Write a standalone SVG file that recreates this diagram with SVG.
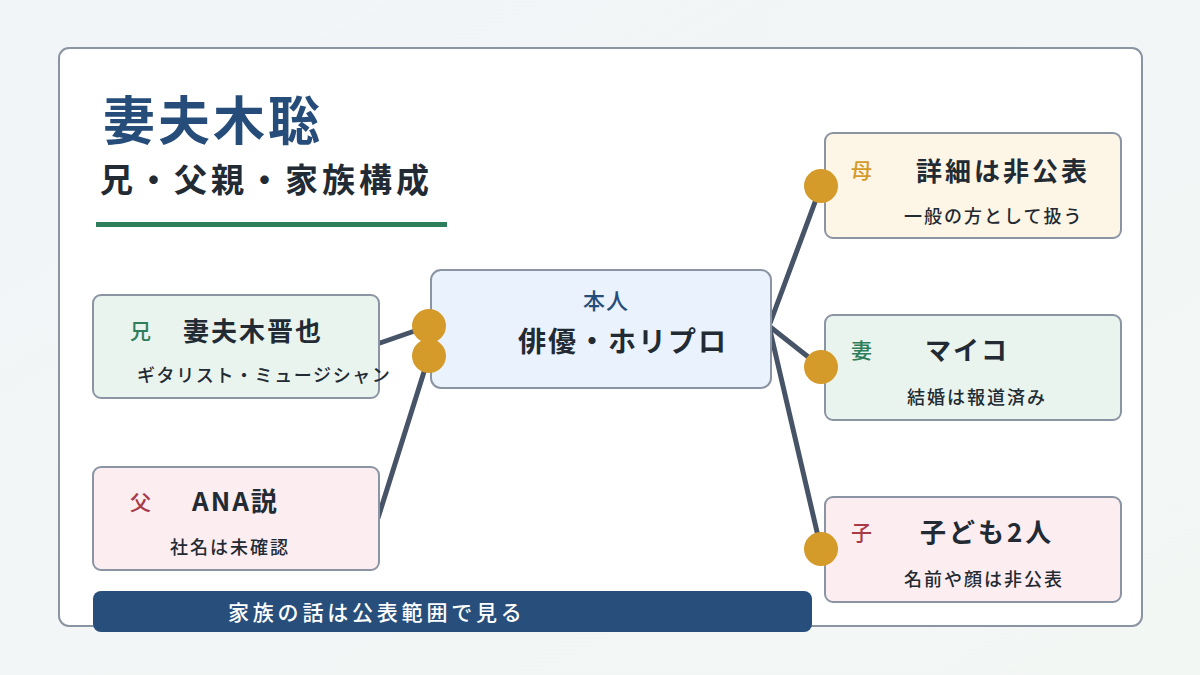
<svg xmlns="http://www.w3.org/2000/svg" width="1200" height="675" viewBox="0 0 1200 675">
<defs>
<linearGradient id="bg" x1="0" y1="0" x2="1" y2="1">
<stop offset="0" stop-color="#f2f5f8"/>
<stop offset="1" stop-color="#f3f7f4"/>
</linearGradient>
</defs>
<style>
text{font-family:"Noto Sans CJK JP","Noto Sans",sans-serif}
.box{stroke:#8b94a2;stroke-width:2}
.tag{font-size:21px;font-weight:500}
.name{font-size:26px;font-weight:700;fill:#222a33;letter-spacing:2px}
.sub{font-size:18px;font-weight:500;fill:#222a33;letter-spacing:2px}
.ln{stroke:#475467;stroke-width:5;fill:none;stroke-linecap:round}
.dot{fill:#d49a2a}
</style>
<rect width="1200" height="675" fill="url(#bg)"/>
<rect x="59" y="48" width="1083" height="578" rx="10" fill="#ffffff" stroke="#8b94a2" stroke-width="2"/>
<g id="header">
<text x="103" y="140" font-size="52" font-weight="700" fill="#264d7a" letter-spacing="3">妻夫木聡</text>
<text x="100" y="192" font-size="33" font-weight="700" fill="#222a33" letter-spacing="4">兄・父親・家族構成</text>
<rect x="96" y="222" width="351" height="5" fill="#2e7d5b"/>
</g>
<g id="connectors">
<line class="ln" x1="380" y1="343" x2="429" y2="326"/>
<line class="ln" x1="378" y1="518" x2="429" y2="356"/>
<line class="ln" x1="769" y1="326" x2="821" y2="186"/>
<line class="ln" x1="769" y1="326" x2="821" y2="367"/>
<line class="ln" x1="769" y1="326" x2="821" y2="549"/>
</g>
<g id="self">
<rect class="box" x="431" y="270" width="340" height="118" rx="10" fill="#eaf2fd"/>
<text x="583" y="309" font-size="22" font-weight="500" fill="#264d7a" letter-spacing="1">本人</text>
<text x="518" y="352" font-size="28" font-weight="700" fill="#222a33" letter-spacing="2">俳優・ホリプロ</text>
</g>
<g id="brother">
<rect class="box" x="93" y="295" width="286" height="103" rx="8" fill="#eaf4ee"/>
<text class="tag" x="130" y="339" fill="#2e7d5b">兄</text>
<text class="name" x="183" y="341">妻夫木晋也</text>
<text class="sub" x="137" y="382" style="letter-spacing:1.6px">ギタリスト・ミュージシャン</text>
</g>
<g id="father">
<rect class="box" x="93" y="467" width="286" height="103" rx="8" fill="#fcedf0"/>
<text class="tag" x="130" y="510" fill="#a83a4a">父</text>
<text class="name" x="192" y="511">ANA説</text>
<text class="sub" x="170" y="554">社名は未確認</text>
</g>
<g id="mother">
<rect class="box" x="825" y="133" width="296" height="105" rx="8" fill="#fdf6e6"/>
<text class="tag" x="851" y="178" fill="#d49a2a">母</text>
<text class="name" x="916" y="181" style="letter-spacing:3px">詳細は非公表</text>
<text class="sub" x="904" y="223">一般の方として扱う</text>
</g>
<g id="wife">
<rect class="box" x="825" y="315" width="296" height="105" rx="8" fill="#eaf4ee"/>
<text class="tag" x="851" y="358" fill="#2e7d5b">妻</text>
<text class="name" x="925" y="360" style="letter-spacing:2px">マイコ</text>
<text class="sub" x="907" y="404">結婚は報道済み</text>
</g>
<g id="children">
<rect class="box" x="825" y="497" width="296" height="105" rx="8" fill="#fcedf0"/>
<text class="tag" x="851" y="540" fill="#a83a4a">子</text>
<text class="name" x="920" y="542" style="letter-spacing:3px">子ども2人</text>
<text class="sub" x="904" y="586">名前や顔は非公表</text>
</g>
<g id="dots">
<circle class="dot" cx="429" cy="326" r="17"/>
<circle class="dot" cx="429" cy="356" r="17"/>
<circle class="dot" cx="821" cy="186" r="17"/>
<circle class="dot" cx="821" cy="367" r="17"/>
<circle class="dot" cx="821" cy="549" r="17"/>
</g>
<g id="banner">
<rect x="93" y="591" width="719" height="41" rx="8" fill="#284f7c"/>
<text x="228" y="620" font-size="21" font-weight="500" fill="#ffffff" letter-spacing="3.8">家族の話は公表範囲で見る</text>
</g>
</svg>
